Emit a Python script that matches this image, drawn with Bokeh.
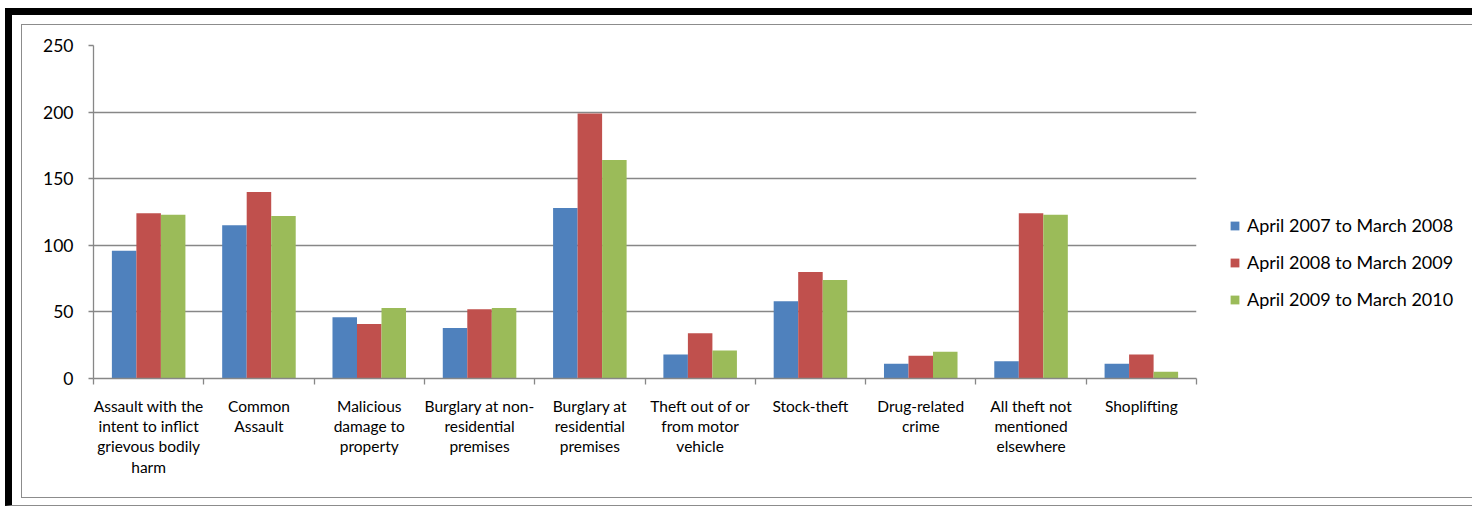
from bokeh.plotting import figure
from bokeh.layouts import column
from bokeh.models import FixedTicker, Legend, LegendItem, Range1d
from bokeh.embed import file_html
from bokeh.resources import INLINE

# Recorded crimes by category, three reporting years
categories = [
    "Assault with the\nintent to inflict\ngrievous bodily\nharm",
    "Common\nAssault",
    "Malicious\ndamage to\nproperty",
    "Burglary at non-\nresidential\npremises",
    "Burglary at\nresidential\npremises",
    "Theft out of or\nfrom motor\nvehicle",
    "Stock-theft",
    "Drug-related\ncrime",
    "All theft not\nmentioned\nelsewhere",
    "Shoplifting",
]
series_names = [
    "April 2007 to March 2008",
    "April 2008 to March 2009",
    "April 2009 to March 2010",
]
values_2007_08 = [96, 115, 46, 38, 128, 18, 58, 11, 13, 11]
values_2008_09 = [124, 140, 41, 52, 199, 34, 80, 17, 124, 18]
values_2009_10 = [123, 122, 53, 53, 164, 21, 74, 20, 123, 5]
y_ticks = [0, 50, 100, 150, 200, 250]

series_values = [values_2007_08, values_2008_09, values_2009_10]
colors = ["#4F81BD", "#C0504D", "#9BBB59"]
FONT = "Lato"
GRID = "#878787"

p = figure(
    frame_width=1102, frame_height=331,
    output_backend="svg", toolbar_location=None, tools="",
    x_range=Range1d(0, len(categories)), y_range=Range1d(0, 250),
    min_border_left=71, min_border_right=277,
    min_border_top=20, min_border_bottom=121,
    background_fill_color="white", border_fill_color="white",
    outline_line_color=None,
    styles={
        "border-top": "1px solid #8c8c8c",
        "border-left": "1px solid #8c8c8c",
        "border-bottom": "1px solid #8c8c8c",
        "border-right": "none",
    },
)

# bars: three per category, gap of 1.5 bar widths between groups
bar_w = 1 / 4.5
centers = [i + 0.5 for i in range(len(categories))]
items = []
for k, (name, vals, col) in enumerate(zip(series_names, series_values, colors)):
    xs = [c + (k - 1) * bar_w for c in centers]
    r = p.vbar(x=xs, top=vals, width=bar_w, fill_color=col, line_color=None)
    items.append(LegendItem(label=name, renderers=[r]))

# y axis and gridlines
p.yaxis.ticker = FixedTicker(ticks=y_ticks)
p.ygrid.ticker = FixedTicker(ticks=y_ticks)
p.ygrid.grid_line_color = GRID
p.ygrid.grid_line_width = 1.3
p.xgrid.visible = False
p.yaxis.axis_line_color = GRID
p.yaxis.axis_line_width = 1.3
p.yaxis.major_tick_line_color = GRID
p.yaxis.major_tick_line_width = 1.3
p.yaxis.major_tick_out = 5
p.yaxis.major_tick_in = 0
p.yaxis.minor_tick_line_color = None
p.yaxis.major_label_standoff = 15
p.yaxis.major_label_text_font = FONT
p.yaxis.major_label_text_font_size = "17.5px"
p.yaxis.major_label_text_color = "#000000"

# x axis: labels at category centres, tick marks on category boundaries
p.xaxis.ticker = FixedTicker(ticks=centers, minor_ticks=list(range(len(categories) + 1)))
p.xaxis.major_label_overrides = {c: lab for c, lab in zip(centers, categories)}
p.xaxis.axis_line_color = GRID
p.xaxis.axis_line_width = 1.3
p.xaxis.major_tick_line_color = None
p.xaxis.minor_tick_line_color = GRID
p.xaxis.minor_tick_line_width = 1.3
p.xaxis.minor_tick_out = 6
p.xaxis.minor_tick_in = 0
p.xaxis.major_label_standoff = 12
p.xaxis.major_label_text_font = FONT
p.xaxis.major_label_text_font_size = "15.5px"
p.xaxis.major_label_text_color = "#000000"
p.xaxis.major_label_text_line_height = 1.13

legend = Legend(
    items=items, location=(33, 68),
    glyph_width=11, glyph_height=11, label_standoff=7,
    label_height=20, spacing=15, padding=0, margin=0,
    label_text_font=FONT, label_text_font_size="18px", label_text_color="#000000",
    border_line_color=None, background_fill_alpha=0,
)
p.add_layout(legend, "right")

# page frame: thick black border on top and left
page = column(
    p,
    styles={
        "margin-top": "8px",
        "margin-left": "5px",
        "border-top": "7px solid #000000",
        "border-left": "7px solid #000000",
        "border-bottom": "1px solid #8c8c8c",
        "padding": "9px 0px 7px 9px",
    },
)

open("out.html", "w").write(file_html(page, INLINE))
